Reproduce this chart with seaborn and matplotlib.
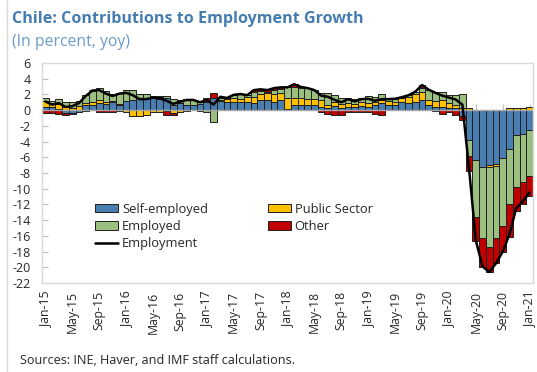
import numpy as np
import pandas as pd
import matplotlib
matplotlib.use("Agg")
import matplotlib.pyplot as plt
from matplotlib.patches import Patch
from matplotlib.lines import Line2D
import seaborn as sns

# Monthly categories, Jan-15 .. Jan-21
months = pd.date_range("2015-01-01", "2021-01-01", freq="MS").strftime("%b-%y").tolist()

# Contributions to employment growth (percentage points, yoy)
self_employed = [
    0.4, 0.4, 0.2, -0.4, -0.4, -0.3, 0.7, 0.7, 0.85, 0.8, 1.0, 0.7,
    1.2, 1.3, 1.6, 1.5, 1.6, 1.4, 1.5, 0.7, 0.85, 0.7, 0.6, 0.8,
    1.0, 1.5, 1.1, 1.05, 1.05, 1.05, 1.0, 0.85, 1.3, 1.3, 1.05, 1.3,
    0.2, 0.6, 0.6, 0.65, 0.65, 0.45, 0.3, 0.5, 0.3, 0.45, 0.4, 0.5,
    0.45, 0.6, 0.85, 0.65, 0.6, 1.05, 0.85, 1.05, 1.3, 0.65, 0.45, 0.45,
    0.3, 0.3, -0.7, -3.8, -6.3, -7.3, -7.0, -6.8, -6.1, -4.9, -3.2, -3.0,
    -2.5,
]
public_sector = [
    0.8, 0.5, 0.6, 0.4, 0.3, 0.5, 0.2, 0.3, 0.4, 0.2, 0.1, 0.1,
    -0.3, -0.7, -0.7, -0.6, -0.2, -0.3, -0.1, -0.4, -0.3, 0.0, 0.1, -0.1,
    0.0, 0.0, 0.2, 0.4, 0.5, 0.4, 0.7, 0.85, 0.7, 0.85, 1.05, 0.85,
    1.4, 1.0, 0.95, 0.8, 0.75, 0.85, 0.4, 0.5, 0.45, 0.45, 0.4, 0.5,
    0.45, 0.4, 0.45, 0.45, 0.4, 0.45, 0.85, 1.05, 1.05, 0.65, 0.65, 0.85,
    0.65, 0.35, 0.3, 0.3, 0.0, 0.0, -0.3, -0.3, 0.0, 0.3, 0.3, 0.3,
    0.4,
]
employed = [
    0.3, 0.2, 0.6, 0.6, 0.7, 0.7, 1.0, 1.5, 1.6, 1.4, 1.0, 1.4,
    1.3, 1.3, 0.5, 0.5, 0.2, 0.3, 0.3, 0.7, 0.5, 0.7, 0.6, 0.2,
    -0.3, -1.5, 0.2, 0.0, 0.4, 0.6, 0.2, 0.65, 0.4, 0.2, 0.4, 0.55,
    1.3, 1.4, 1.3, 1.35, 1.15, 0.85, 1.5, 0.9, 0.85, 0.7, 0.6, 0.6,
    0.85, 0.7, 0.7, 0.3, 0.45, 0.0, 0.2, 0.25, 0.5, 1.3, 1.2, 1.0,
    0.95, 1.3, 1.7, -2.1, -7.3, -9.0, -10.1, -9.2, -8.7, -7.0, -6.6, -6.1,
    -5.9,
]
other = [
    -0.4, -0.4, -0.5, -0.2, -0.1, 0.0, -0.1, 0.0, -0.3, -0.3, -0.3, -0.1,
    0.0, 0.0, 0.0, 0.0, 0.0, 0.1, -0.5, -0.2, 0.0, -0.1, 0.0, 0.1,
    0.6, 0.7, 0.2, 0.1, 0.0, 0.0, 0.0, 0.2, 0.25, 0.2, 0.3, 0.2,
    0.0, 0.3, 0.1, 0.0, 0.0, -0.3, -0.5, -0.6, -0.6, -0.2, -0.3, -0.2,
    -0.3, -0.5, -0.6, 0.0, 0.0, 0.15, 0.0, 0.0, 0.35, 0.0, -0.1, -0.45,
    -0.3, -0.6, -0.6, -1.9, -3.0, -3.6, -3.2, -3.2, -3.2, -4.2, -3.0, -2.8,
    -2.5,
]
employment = [
    1.1, 0.7, 0.9, 0.4, 0.5, 0.9, 1.8, 2.5, 2.55, 2.1, 1.8, 2.1,
    2.2, 1.9, 1.4, 1.4, 1.6, 1.5, 1.2, 0.8, 1.05, 1.3, 1.3, 1.0,
    1.3, 0.7, 1.7, 1.55, 1.95, 2.05, 1.9, 2.55, 2.65, 2.55, 2.8, 2.9,
    2.9, 3.3, 2.95, 2.8, 2.55, 1.85, 1.7, 1.3, 1.0, 1.4, 1.1, 1.4,
    1.45, 1.2, 1.4, 1.4, 1.45, 1.65, 1.9, 2.35, 3.2, 2.6, 2.2, 1.85,
    1.6, 1.35, 0.7, -7.5, -16.6, -19.9, -20.6, -19.5, -18.0, -15.8, -12.5, -11.6,
    -10.5,
]

series_names = ["Self-employed", "Public Sector", "Employed", "Other"]
series_values = [self_employed, public_sector, employed, other]
series_colors = ["#4A7EB0", "#FFC000", "#9BBF7E", "#C00000"]
y_ticks = list(range(-22, 7, 2))

sns.set_theme(style="white")
plt.rcParams["font.family"] = ["Open Sans", "DejaVu Sans"]
plt.rcParams["axes.unicode_minus"] = False

fig = plt.figure(figsize=(5.37, 3.72), dpi=100)
ax = fig.add_axes([42 / 537, 1 - 283 / 372, 491 / 537, 220 / 372])

x = np.arange(len(months))
edge = "#1F1F1F"

# Stacked bars: positives stack upward from zero, negatives downward
pos_base = np.zeros(len(months))
neg_base = np.zeros(len(months))
for vals, color in zip(series_values, series_colors):
    v = np.asarray(vals, dtype=float)
    bottom = np.where(v >= 0, pos_base, neg_base)
    sns.barplot(x=x, y=v, bottom=bottom, color=color, saturation=1,
                width=1.0, errorbar=None, edgecolor=edge, linewidth=0.7,
                ax=ax, zorder=2)
    pos_base += np.clip(v, 0, None)
    neg_base += np.clip(v, None, 0)

ax.axhline(0, color="#A6A6A6", lw=1.0, zorder=3)
sns.lineplot(x=x, y=employment, color="black", linewidth=1.8, ax=ax, zorder=4)

ax.set_ylim(y_ticks[0], y_ticks[-1])
ax.set_xlim(-0.5, len(months) - 0.5)
ax.set_yticks(y_ticks, labels=[str(t) for t in y_ticks])
ax.set_xticks(x[::4], labels=months[::4], rotation=90)
ax.set_xlabel("")
ax.set_ylabel("")
ax.tick_params(axis="y", direction="in", length=4, width=0.8, color="#BFBFBF",
               labelsize=9, labelcolor="#262626", pad=8, left=True)
ax.tick_params(axis="x", length=0, labelsize=8.8, labelcolor="#262626", pad=6)
for s in ax.spines.values():
    s.set_visible(True)
    s.set_color("#D9D9D9")
    s.set_linewidth(1.0)

# Tick marks along the zero line
zero_pos = (0 - y_ticks[0]) / (y_ticks[-1] - y_ticks[0])
sec = ax.secondary_xaxis(zero_pos)
sec.set_xticks(x[::4])
sec.tick_params(length=4, width=0.8, color="#BFBFBF", labeltop=False, labelbottom=False)
for s in sec.spines.values():
    s.set_visible(False)

# Legend
patches = [Patch(facecolor=c, edgecolor=edge, linewidth=0.7, label=n)
           for n, c in zip(series_names, series_colors)]
line_handle = Line2D([], [], color="black", lw=1.8, label="Employment")
handles = [patches[0], patches[2], line_handle, patches[1], patches[3]]
ax.legend(handles=handles, ncol=2, loc="upper left", bbox_to_anchor=(0.108, 0.365),
          frameon=False, fontsize=9.3, handlelength=1.8, handleheight=0.65,
          handletextpad=0.3, columnspacing=4.6, labelspacing=0.33,
          borderpad=0, borderaxespad=0)

fig.text(12 / 537, 1 - 19 / 372, "Chile: Contributions to Employment Growth",
         fontsize=11.6, fontweight="bold", color="#467DB0", va="center")
fig.text(12 / 537, 1 - 42 / 372, "(In percent, yoy)", fontsize=11.3,
         color="#6A9BCB", va="center")
fig.text(20 / 537, 1 - 360 / 372, "Sources: INE, Haver, and IMF staff calculations.",
         fontsize=9.1, color="#262626", va="center")
fig.add_artist(Line2D([6.5 / 537, 6.5 / 537], [0, 1], color="#D9D9D9", lw=1.0))

fig.savefig("out.png", dpi=100)
